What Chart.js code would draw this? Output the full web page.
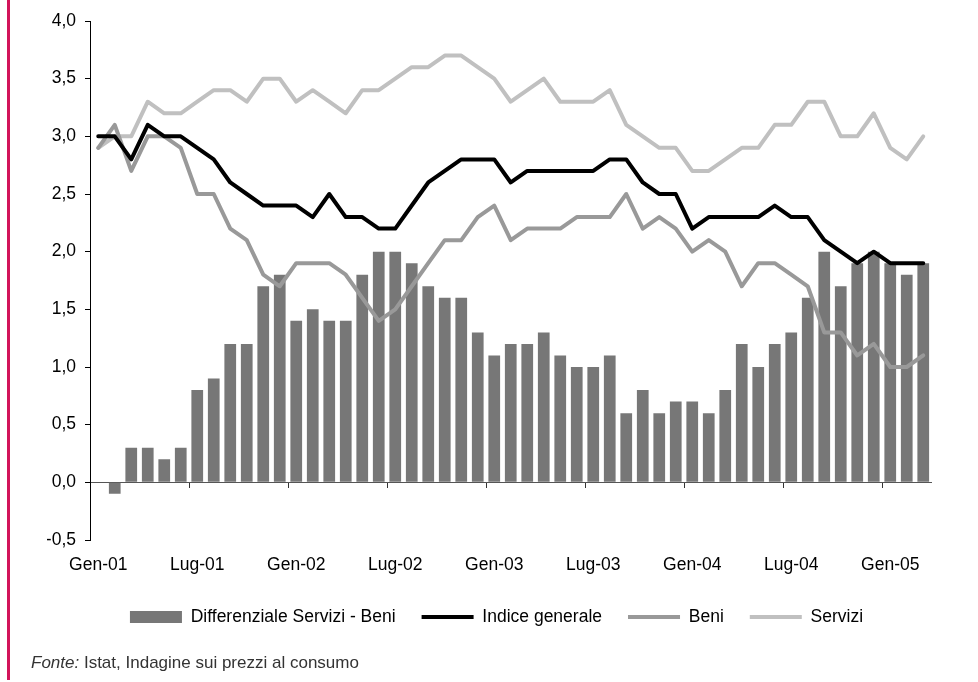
<!DOCTYPE html>
<html lang="it">
<head>
<meta charset="utf-8">
<title>Inflazione: servizi e beni</title>
<script src="https://cdn.jsdelivr.net/npm/chart.js@4.4.1/dist/chart.umd.min.js"></script>
<style>
  html, body {
    margin: 0;
    padding: 0;
    background: #fff;
  }
  .page {
    position: relative;
    width: 978px;
    height: 682px;
    overflow: hidden;
  }
  .red-rule {
    position: absolute;
    left: 7px;
    top: 0;
    width: 3px;
    height: 680px;
    background: #d2145a;
  }
  #inflChart {
    position: absolute;
    left: 0;
    top: 0;
  }
  .fonte {
    position: absolute;
    left: 31px;
    top: 653px;
    font-family: 'Liberation Sans', Arial, sans-serif;
    font-size: 17px;
    line-height: 20px;
    color: #333;
    white-space: nowrap;
  }
</style>
</head>
<body>
<div class="page">
  <div class="red-rule"></div>
  <canvas id="inflChart" width="978" height="682"></canvas>
  <div class="fonte"><i>Fonte:</i> Istat, Indagine sui prezzi al consumo</div>
</div>

<script>
// Monthly categories, Gen-01 .. Mar-05
const mesi = [
  'Gen-01', 'Feb-01', 'Mar-01', 'Apr-01', 'Mag-01', 'Giu-01', 'Lug-01', 'Ago-01', 'Set-01', 'Ott-01', 'Nov-01', 'Dic-01',
  'Gen-02', 'Feb-02', 'Mar-02', 'Apr-02', 'Mag-02', 'Giu-02', 'Lug-02', 'Ago-02', 'Set-02', 'Ott-02', 'Nov-02', 'Dic-02',
  'Gen-03', 'Feb-03', 'Mar-03', 'Apr-03', 'Mag-03', 'Giu-03', 'Lug-03', 'Ago-03', 'Set-03', 'Ott-03', 'Nov-03', 'Dic-03',
  'Gen-04', 'Feb-04', 'Mar-04', 'Apr-04', 'Mag-04', 'Giu-04', 'Lug-04', 'Ago-04', 'Set-04', 'Ott-04', 'Nov-04', 'Dic-04',
  'Gen-05', 'Feb-05', 'Mar-05'
];

// Differenziale Servizi - Beni (bars)
const differenziale = [
  0.0, -0.1, 0.3, 0.3, 0.2, 0.3, 0.8, 0.9, 1.2, 1.2, 1.7, 1.8,
  1.4, 1.5, 1.4, 1.4, 1.8, 2.0, 2.0, 1.9, 1.7, 1.6, 1.6, 1.3,
  1.1, 1.2, 1.2, 1.3, 1.1, 1.0, 1.0, 1.1, 0.6, 0.8, 0.6, 0.7,
  0.7, 0.6, 0.8, 1.2, 1.0, 1.2, 1.3, 1.6, 2.0, 1.7, 1.9, 2.0,
  1.9, 1.8, 1.9
];

// Indice generale
const indiceGenerale = [
  3.0, 3.0, 2.8, 3.1, 3.0, 3.0, 2.9, 2.8, 2.6, 2.5, 2.4, 2.4,
  2.4, 2.3, 2.5, 2.3, 2.3, 2.2, 2.2, 2.4, 2.6, 2.7, 2.8, 2.8,
  2.8, 2.6, 2.7, 2.7, 2.7, 2.7, 2.7, 2.8, 2.8, 2.6, 2.5, 2.5,
  2.2, 2.3, 2.3, 2.3, 2.3, 2.4, 2.3, 2.3, 2.1, 2.0, 1.9, 2.0,
  1.9, 1.9, 1.9
];

// Beni
const beni = [
  2.9, 3.1, 2.7, 3.0, 3.0, 2.9, 2.5, 2.5, 2.2, 2.1, 1.8, 1.7,
  1.9, 1.9, 1.9, 1.8, 1.6, 1.4, 1.5, 1.7, 1.9, 2.1, 2.1, 2.3,
  2.4, 2.1, 2.2, 2.2, 2.2, 2.3, 2.3, 2.3, 2.5, 2.2, 2.3, 2.2,
  2.0, 2.1, 2.0, 1.7, 1.9, 1.9, 1.8, 1.7, 1.3, 1.3, 1.1, 1.2,
  1.0, 1.0, 1.1
];

// Servizi
const servizi = [
  2.9, 3.0, 3.0, 3.3, 3.2, 3.2, 3.3, 3.4, 3.4, 3.3, 3.5, 3.5,
  3.3, 3.4, 3.3, 3.2, 3.4, 3.4, 3.5, 3.6, 3.6, 3.7, 3.7, 3.6,
  3.5, 3.3, 3.4, 3.5, 3.3, 3.3, 3.3, 3.4, 3.1, 3.0, 2.9, 2.9,
  2.7, 2.7, 2.8, 2.9, 2.9, 3.1, 3.1, 3.3, 3.3, 3.0, 3.0, 3.2,
  2.9, 2.8, 3.0
];

// Y axis range and step
const yMin = -0.5;
const yMax = 4.0;
const yStep = 0.5;

// Every sixth month gets a label and a tick mark
const labelEvery = 6;

const FONT = "'Liberation Sans', Arial, sans-serif";

function lineDataset(label, data, color, order) {
  return {
    type: 'line',
    label: label,
    data: data,
    borderColor: color,
    backgroundColor: color,
    borderWidth: 4,
    borderJoinStyle: 'round',
    borderCapStyle: 'round',
    pointRadius: 0,
    pointHoverRadius: 0,
    pointStyle: 'line',
    tension: 0,
    fill: false,
    order: order
  };
}

function initChart() {
  const ctx = document.getElementById('inflChart').getContext('2d');

  Chart.defaults.font.family = FONT;
  Chart.defaults.color = '#000';

  new Chart(ctx, {
    type: 'bar',
    data: {
      labels: mesi,
      datasets: [
        {
          type: 'bar',
          label: 'Differenziale Servizi - Beni',
          data: differenziale,
          backgroundColor: '#777777',
          borderWidth: 0,
          barPercentage: 0.71,
          categoryPercentage: 1.0,
          pointStyle: 'rect',
          order: 4
        },
        lineDataset('Indice generale', indiceGenerale, '#000000', 1),
        lineDataset('Beni', beni, '#999999', 2),
        lineDataset('Servizi', servizi, '#c0c0c0', 3)
      ]
    },
    options: {
      responsive: false,
      animation: false,
      devicePixelRatio: 1,
      layout: {
        padding: { left: 47, right: 32, top: 21, bottom: 46.25 }
      },
      scales: {
        x: {
          type: 'category',
          position: 'bottom',
          offset: true,
          grid: { display: false, drawTicks: false, offset: true },
          border: { display: false },
          ticks: {
            autoSkip: false,
            maxRotation: 0,
            minRotation: 0,
            padding: 15,
            font: { size: 17.5 },
            color: '#000',
            callback: function (value, index) {
              return index % labelEvery === 0 ? mesi[index] : '';
            }
          },
          afterFit: function (scale) {
            scale.height = 42.25;
          }
        },
        // zero line with tick marks between the labelled months
        xZero: {
          type: 'category',
          position: { y: 0 },
          offset: true,
          z: 1,
          grid: {
            offset: true,
            drawOnChartArea: false,
            tickLength: 5,
            color: function (c) {
              return c.index % labelEvery === 0 ? '#333' : 'rgba(0,0,0,0)';
            }
          },
          border: { display: true, color: '#555', width: 1 },
          ticks: { display: false },
          afterFit: function (scale) {
            scale.height = 0;
          }
        },
        y: {
          type: 'linear',
          position: 'left',
          min: yMin,
          max: yMax,
          grid: {
            drawOnChartArea: false,
            tickLength: 5,
            color: '#000'
          },
          border: { display: true, color: '#000', width: 1 },
          ticks: {
            stepSize: yStep,
            padding: 9,
            font: { size: 17.5 },
            color: '#000',
            callback: function (value) {
              return value.toFixed(1).replace('.', ',');
            }
          },
          afterFit: function (scale) {
            scale.width = 43;
          }
        },
        // keeps the plot's right edge where the original has it
        spacer: {
          type: 'linear',
          position: 'right',
          display: true,
          grid: { display: false, drawTicks: false },
          border: { display: false },
          ticks: { display: false },
          afterFit: function (scale) {
            scale.width = 14.5;
          }
        }
      },
      plugins: {
        legend: {
          position: 'bottom',
          labels: {
            usePointStyle: true,
            pointStyleWidth: 52,
            boxHeight: 12,
            padding: 26,
            color: '#000',
            font: { size: 17.5 },
            sort: function (a, b) {
              return a.datasetIndex - b.datasetIndex;
            }
          }
        },
        tooltip: { enabled: false }
      }
    }
  });
}

document.addEventListener('DOMContentLoaded', initChart);
</script>
</body>
</html>
